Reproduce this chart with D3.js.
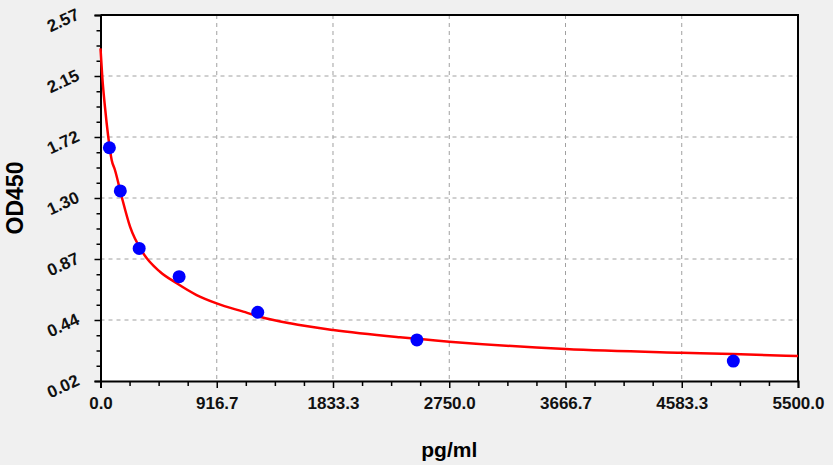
<!DOCTYPE html>
<head>
  <meta charset="utf-8">
  <script src="https://cdnjs.cloudflare.com/ajax/libs/d3/7.8.5/d3.min.js"></script>
  <style>
    body { margin:0; background:#f0f0f0; }
    svg { display:block; font-family: "Liberation Sans", Arial, sans-serif; }
  </style>
</head>
<body>
  <script>
    // standard points (pg/ml vs OD450)
    var conc = [70, 156.25, 305, 620, 1240, 2495, 4990];
    var od = [1.645, 1.344, 0.944, 0.747, 0.499, 0.306, 0.159];

    // fitted curve
    var curveX = [0, 14, 35, 61, 88, 114, 167, 233, 337, 469, 601, 758, 916, 1126, 1257, 1494, 1835, 2361, 2750, 3667, 4583, 4985, 5500];
    var curveY = [2.338, 2.14, 1.931, 1.722, 1.56, 1.49, 1.304, 1.095, 0.91, 0.781, 0.701, 0.619, 0.561, 0.503, 0.468, 0.422, 0.375, 0.324, 0.294, 0.243, 0.217, 0.208, 0.194];

    var xTickValues = [0, 916.67, 1833.33, 2750, 3666.67, 4583.33, 5500];
    var xTickLabels = ["0.0", "916.7", "1833.3", "2750.0", "3666.7", "4583.3", "5500.0"];
    var yTickValues = [0.02, 0.445, 0.87, 1.295, 1.72, 2.145, 2.57];
    var yTickLabels = ["0.02", "0.44", "0.87", "1.30", "1.72", "2.15", "2.57"];

    var W = 833, H = 465;
    var margin = {top: 15, right: 35, bottom: 84, left: 100.5};
    var width = W - margin.left - margin.right;
    var height = H - margin.top - margin.bottom;

    var svg = d3.select("body").append("svg")
      .attr("width", W)
      .attr("height", H)
    .append("g")
      .attr("transform", "translate(" + margin.left + "," + margin.top + ")");

    var x = d3.scaleLinear().domain([0, 5500]).range([0, width]);
    var y = d3.scaleLinear().domain([0.02, 2.57]).range([height, 0]);

    svg.append("rect")
      .attr("width", width).attr("height", height)
      .style("fill", "#fff");

    // minor ticks, 3 between each major
    var xMinor = [], yMinor = [];
    for (var i = 0; i < xTickValues.length - 1; i++) {
      for (var k = 1; k < 4; k++) {
        xMinor.push(xTickValues[i] + (xTickValues[i+1] - xTickValues[i]) * k / 4);
        yMinor.push(yTickValues[i] + (yTickValues[i+1] - yTickValues[i]) * k / 4);
      }
    }

    // dashed grid
    svg.append("g").selectAll("line").data(xTickValues.slice(1, -1)).enter().append("line")
      .attr("x1", function(d){ return x(d); }).attr("x2", function(d){ return x(d); })
      .attr("y1", 0).attr("y2", height)
      .style("stroke", "#a0a0a0").style("stroke-dasharray", "4,4");
    svg.append("g").selectAll("line").data(yTickValues.slice(1, -1)).enter().append("line")
      .attr("y1", function(d){ return y(d); }).attr("y2", function(d){ return y(d); })
      .attr("x1", 0).attr("x2", width)
      .style("stroke", "#a0a0a0").style("stroke-dasharray", "4,4");

    // axes
    var xAxis = svg.append("g").attr("transform", "translate(0," + height + ")")
      .call(d3.axisBottom(x).tickValues(xTickValues).tickSize(7).tickPadding(9)
        .tickFormat(function(d, i){ return xTickLabels[i]; }));
    svg.append("g").attr("transform", "translate(0," + height + ")")
      .call(d3.axisBottom(x).tickValues(xMinor).tickSize(5).tickFormat(""))
      .select(".domain").remove();
    var yAxis = svg.append("g")
      .call(d3.axisLeft(y).tickValues(yTickValues).tickSize(6)
        .tickFormat(function(d, i){ return yTickLabels[i]; }));
    svg.append("g")
      .call(d3.axisLeft(y).tickValues(yMinor).tickSize(4).tickFormat(""))
      .select(".domain").remove();

    svg.selectAll(".tick line").style("stroke", "#000").style("stroke-width", 1.5);
    svg.selectAll(".domain").style("stroke", "#000").style("stroke-width", 2);

    xAxis.selectAll("text")
      .style("font-size", "17px").style("font-weight", "bold").style("fill", "#111");
    yAxis.selectAll("text")
      .attr("x", null).attr("dy", null)
      .attr("text-anchor", "middle")
      .attr("transform", "translate(-35,10) rotate(-25)")
      .style("font-size", "17px").style("font-weight", "bold").style("fill", "#111");

    // frame top/right
    svg.append("path")
      .attr("d", "M0,0H" + width + "V" + height)
      .style("fill", "none").style("stroke", "#000").style("stroke-width", 2);

    // fitted curve
    var line = d3.line()
      .x(function(d){ return x(d[0]); })
      .y(function(d){ return y(d[1]); })
      .curve(d3.curveMonotoneX);
    svg.append("path")
      .datum(d3.zip(curveX, curveY))
      .attr("d", line)
      .style("fill", "none").style("stroke", "#ff0000").style("stroke-width", 2.5);

    svg.append("g").selectAll("circle").data(d3.zip(conc, od)).enter().append("circle")
      .attr("cx", function(d){ return x(d[0]); })
      .attr("cy", function(d){ return y(d[1]); })
      .attr("r", 6.5)
      .style("fill", "#0000ff");

    // titles
    svg.append("text")
      .attr("x", width / 2).attr("y", height + 76)
      .attr("text-anchor", "middle")
      .style("font-size", "21px").style("font-weight", "bold")
      .text("pg/ml");
    svg.append("text")
      .attr("transform", "translate(-77.5," + (height / 2) + ") rotate(-90)")
      .attr("text-anchor", "middle")
      .style("font-size", "23px").style("font-weight", "bold")
      .text("OD450");
  </script>
</body>
